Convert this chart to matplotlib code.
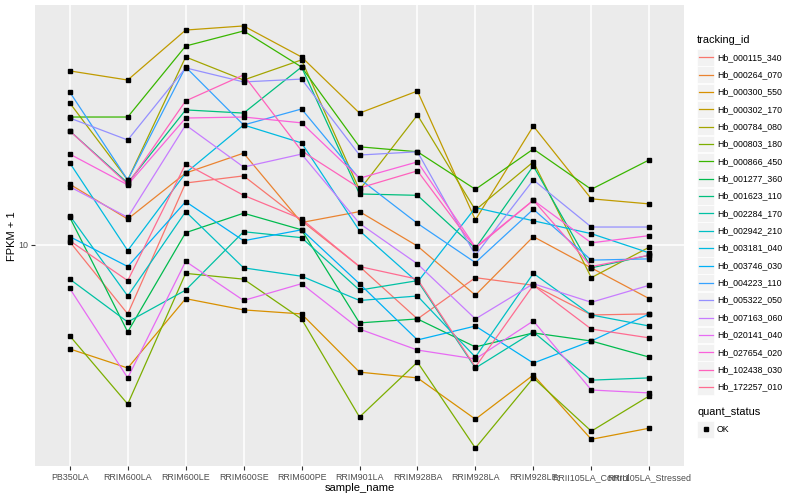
import matplotlib
matplotlib.use("Agg")
import matplotlib.pyplot as plt
from matplotlib.patches import Rectangle

plt.rcParams['font.family'] = ['Liberation Sans', 'DejaVu Sans']

# sample order on the x axis
samples = ["PB350LA", "RRIM600LA", "RRIM600LE", "RRIM600SE", "RRIM600PE",
           "RRIM901LA", "RRIM928BA", "RRIM928LA", "RRIM928LE",
           "RRII105LA_Control", "RRII105LA_Stressed"]

# FPKM + 1 per gene
hb_000115_340 = [10.3, 5.3, 17.7, 18.9, 12.5, 8.2, 5.06, 7.4, 6.9, 5.25, 5.3]
hb_000264_070 = [17.5, 12.7, 19.4, 23.3, 12.3, 13.6, 9.9, 6.3, 10.8, 8.1, 6.1]
hb_000300_550 = [3.84, 3.22, 6.1, 5.5, 5.3, 3.10, 2.94, 2.01, 3.02, 1.67, 1.85]
hb_000302_170 = [49.7, 45.7, 72.4, 75.2, 56.5, 33.7, 41.3, 12.6, 29.9, 15.3, 14.6]
hb_000784_080 = [37.0, 18.2, 56.5, 45.7, 55.0, 16.6, 33.1, 13.8, 21.5, 7.4, 9.8]
hb_000803_180 = [4.33, 2.31, 7.7, 7.3, 5.06, 2.05, 3.40, 1.54, 2.94, 1.80, 2.49]
hb_000866_450 = [32.5, 32.5, 62.5, 71.8, 51.5, 24.7, 23.6, 16.7, 24.2, 16.7, 21.9]
hb_001277_360 = [12.9, 4.49, 11.2, 13.4, 11.5, 4.88, 5.06, 3.91, 4.45, 4.13, 3.56]
hb_001623_110 = [28.6, 17.7, 34.7, 33.7, 51.5, 16.0, 15.8, 9.7, 20.7, 8.1, 9.1]
hb_002284_170 = [7.3, 4.92, 6.6, 11.3, 10.7, 6.6, 7.2, 3.22, 4.49, 2.88, 2.94]
hb_002942_210 = [13.1, 6.25, 13.6, 8.1, 7.5, 6.0, 6.25, 3.56, 7.7, 5.25, 4.74]
hb_003181_040 = [21.3, 9.5, 19.4, 30.2, 25.6, 11.4, 7.1, 14.1, 12.5, 11.1, 9.3]
hb_003746_030 = [10.8, 8.2, 14.9, 10.4, 11.5, 7.0, 4.17, 4.74, 3.37, 4.13, 5.3]
hb_004223_110 = [40.9, 18.2, 51.5, 30.2, 35.0, 18.4, 12.2, 8.5, 13.9, 8.7, 8.8]
hb_005322_050 = [32.2, 26.3, 51.1, 44.9, 46.1, 22.9, 23.6, 9.1, 18.2, 11.8, 11.8]
hb_007163_060 = [17.1, 12.9, 30.2, 20.5, 23.1, 12.2, 8.4, 5.06, 7.0, 5.9, 6.9]
hb_020141_040 = [6.7, 2.94, 8.6, 6.0, 7.0, 4.61, 3.80, 3.50, 4.97, 2.63, 2.56]
hb_027654_020 = [23.1, 17.4, 32.2, 32.5, 30.8, 18.5, 21.5, 9.8, 15.1, 10.2, 10.9]
hb_102438_030 = [28.6, 17.5, 37.7, 47.9, 23.8, 16.9, 19.8, 9.7, 15.1, 8.2, 9.1]
hb_172257_010 = [10.4, 7.2, 21.1, 15.8, 12.7, 8.2, 7.3, 3.25, 6.9, 4.61, 4.25]

tracking_ids = ["Hb_000115_340", "Hb_000264_070", "Hb_000300_550", "Hb_000302_170",
                "Hb_000784_080", "Hb_000803_180", "Hb_000866_450", "Hb_001277_360",
                "Hb_001623_110", "Hb_002284_170", "Hb_002942_210", "Hb_003181_040",
                "Hb_003746_030", "Hb_004223_110", "Hb_005322_050", "Hb_007163_060",
                "Hb_020141_040", "Hb_027654_020", "Hb_102438_030", "Hb_172257_010"]
series = [hb_000115_340, hb_000264_070, hb_000300_550, hb_000302_170,
          hb_000784_080, hb_000803_180, hb_000866_450, hb_001277_360,
          hb_001623_110, hb_002284_170, hb_002942_210, hb_003181_040,
          hb_003746_030, hb_004223_110, hb_005322_050, hb_007163_060,
          hb_020141_040, hb_027654_020, hb_102438_030, hb_172257_010]

# ggplot default hue palette for 20 levels
colors = ["#F8766D", "#EA8331", "#D89000", "#C09B00", "#A3A500", "#7CAE00",
          "#39B600", "#00BB4E", "#00BF7D", "#00C1A3", "#00BFC4", "#00BAE0",
          "#00B0F6", "#35A2FF", "#9590FF", "#C77CFF", "#E76BF3", "#FA62DB",
          "#FF62BC", "#FF6C91"]

W, H = 800, 500
fig = plt.figure(figsize=(8, 5), dpi=100)
fig.patch.set_facecolor("white")

# panel placed in pixel terms
left, right, top, bottom = 35, 684, 5, 466
ax = fig.add_axes([left / W, 1 - bottom / H, (right - left) / W, (bottom - top) / H])
ax.set_facecolor("#EBEBEB")
for s in ax.spines.values():
    s.set_visible(False)

x = list(range(len(samples)))
for vals, col in zip(series, colors):
    ax.plot(x, vals, color=col, lw=0.9, zorder=2)
for vals in series:
    ax.plot(x, vals, ls="none", marker="s", ms=2.6, color="black", zorder=3)

ax.set_yscale("log")
ax.set_ylim(1.306, 91.2)
ax.set_xlim(-0.6, len(samples) - 0.4)
ax.set_yticks([10])
ax.set_yticklabels(["10"])
ax.yaxis.set_minor_locator(matplotlib.ticker.NullLocator())
ax.set_xticks(x)
ax.set_xticklabels(samples)
ax.grid(True, which="major", color="white", lw=1.1)
ax.set_axisbelow(True)
ax.tick_params(axis="both", length=3, width=0.8, color="#333333",
               labelcolor="#4D4D4D", labelsize=6.4, pad=2)

fig.text((left + right) / 2 / W, 1 - 488 / H, "sample_name", ha="center", va="center",
         fontsize=8, color="black")
fig.text(12 / W, 1 - 236 / H, "FPKM + 1", ha="center", va="center", rotation=90,
         fontsize=8, color="black")

# legends drawn in pixel coordinates
lax = fig.add_axes([0, 0, 1, 1])
lax.set_xlim(0, W)
lax.set_ylim(H, 0)
lax.axis("off")

lax.text(697, 40, "tracking_id", ha="left", va="center", fontsize=7.9)
step = 17.35
for i, (name, col) in enumerate(zip(tracking_ids, colors)):
    yc = 57.3 + i * step
    lax.add_patch(Rectangle((697, yc - 8.4), 17, 16.8, facecolor="#F2F2F2",
                            edgecolor="white", lw=0.5))
    lax.plot([698.5, 712.5], [yc, yc], color=col, lw=0.9)
    lax.text(717, yc, name, ha="left", va="center", fontsize=6.3)

lax.text(697, 412, "quant_status", ha="left", va="center", fontsize=7.9)
lax.add_patch(Rectangle((697, 421), 17, 16.8, facecolor="#F2F2F2",
                        edgecolor="white", lw=0.5))
lax.plot([705.5], [429.4], ls="none", marker="s", ms=2.6, color="black")
lax.text(717, 429.4, "OK", ha="left", va="center", fontsize=6.3)

fig.savefig("out.png", dpi=100)
